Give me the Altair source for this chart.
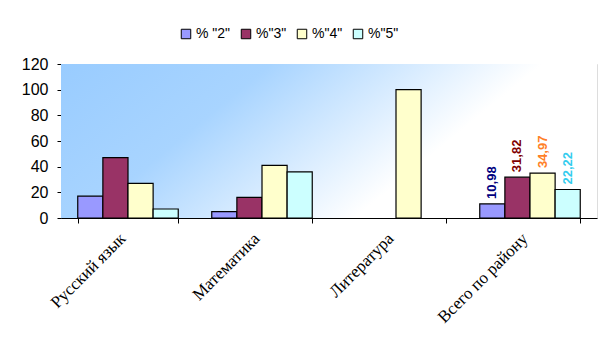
import altair as alt
import pandas as pd

categories = ["Русский язык", "Математика", "Литература", "Всего по району"]
series = ['% "2"', '%"3"', '%"4"', '%"5"']
v2 = [17, 5, None, 10.98]
v3 = [47, 16, None, 31.82]
v4 = [27, 41, 100, 34.97]
v5 = [7, 36, None, 22.22]

bar_colors = ["#9999ff", "#993366", "#ffffcc", "#ccffff"]
label_colors = ["#000080", "#800000", "#ff7f27", "#33ccee"]

rows = []
for s, vals in zip(series, [v2, v3, v4, v5]):
    for c, v in zip(categories, vals):
        rows.append({"cat": c, "series": s, "value": v})
df = pd.DataFrame(rows)

W, H = 536, 154

bg = alt.Chart(pd.DataFrame({"a": [0]})).mark_rect(
    fill=alt.Gradient(
        gradient="linear",
        stops=[
            alt.GradientStop(color="#99ccff", offset=0),
            alt.GradientStop(color="#a8d4ff", offset=0.35),
            alt.GradientStop(color="#ffffff", offset=0.8),
            alt.GradientStop(color="#ffffff", offset=1),
        ],
        x1=0, y1=0, x2=1, y2=0.35,
    )
).encode(x=alt.value(0), x2=alt.value(W), y=alt.value(0), y2=alt.value(H))

xscale = alt.Scale(domain=categories, paddingInner=0.25, paddingOuter=0.125)
yscale = alt.Scale(domain=[0, 120])

xaxis = alt.Axis(labelAngle=-45, tickBand="extent", labelFont="Liberation Serif",
                 labelFontSize=17, labelColor="black", domainColor="black",
                 tickColor="black", labelPadding=7, labelOffset=-11, tickSize=5)
yaxis = alt.Axis(values=[0, 20, 40, 60, 80, 100, 120], grid=False,
                 labelOverlap=False,
                 labelFont="Liberation Sans", labelFontSize=16,
                 labelColor="black", domainColor="black", tickColor="black",
                 tickSize=4, labelPadding=9)

base = alt.Chart(df).transform_filter("isValid(datum.value)")

bars = base.mark_bar(stroke="black", strokeWidth=1.2).encode(
    x=alt.X("cat:N", sort=categories, scale=xscale, title=None, axis=xaxis),
    xOffset=alt.XOffset("series:N", sort=series),
    y=alt.Y("value:Q", scale=yscale, title=None, axis=yaxis),
    fill=alt.Fill("series:N", sort=series,
                  scale=alt.Scale(domain=series, range=bar_colors),
                  legend=alt.Legend(title=None, orient="none", direction="horizontal",
                                    legendX=118, legendY=-37, symbolType="square",
                                    symbolSize=90, symbolStrokeColor="black",
                                    symbolStrokeWidth=1, labelFont="Liberation Sans",
                                    labelFontSize=14, labelColor="black",
                                    columnPadding=8, labelOffset=3)),
)

labels = base.transform_filter(
    alt.datum.cat == "Всего по району"
).transform_calculate(
    lbl="replace(format(datum.value, '.2f'), '.', ',')"
).mark_text(angle=270, align="left", baseline="middle", dx=5,
            font="Liberation Sans", fontWeight="bold", fontSize=13).encode(
    x=alt.X("cat:N", sort=categories, scale=xscale, title=None, axis=xaxis),
    xOffset=alt.XOffset("series:N", sort=series),
    y=alt.Y("value:Q", scale=yscale, title=None, axis=yaxis),
    text="lbl:N",
    color=alt.Color("series:N", scale=alt.Scale(domain=series, range=label_colors), legend=None),
)

chart = alt.layer(bg, bars, labels).resolve_scale(color="independent").properties(
    width=W, height=H,
    autosize=alt.AutoSizeParams(type="none"),
    padding={"left": 61, "top": 64, "right": 19, "bottom": 135},
).configure_view(stroke=None).configure(background="white")

chart.save("out.html", embed_options={"renderer": "svg", "actions": False})
